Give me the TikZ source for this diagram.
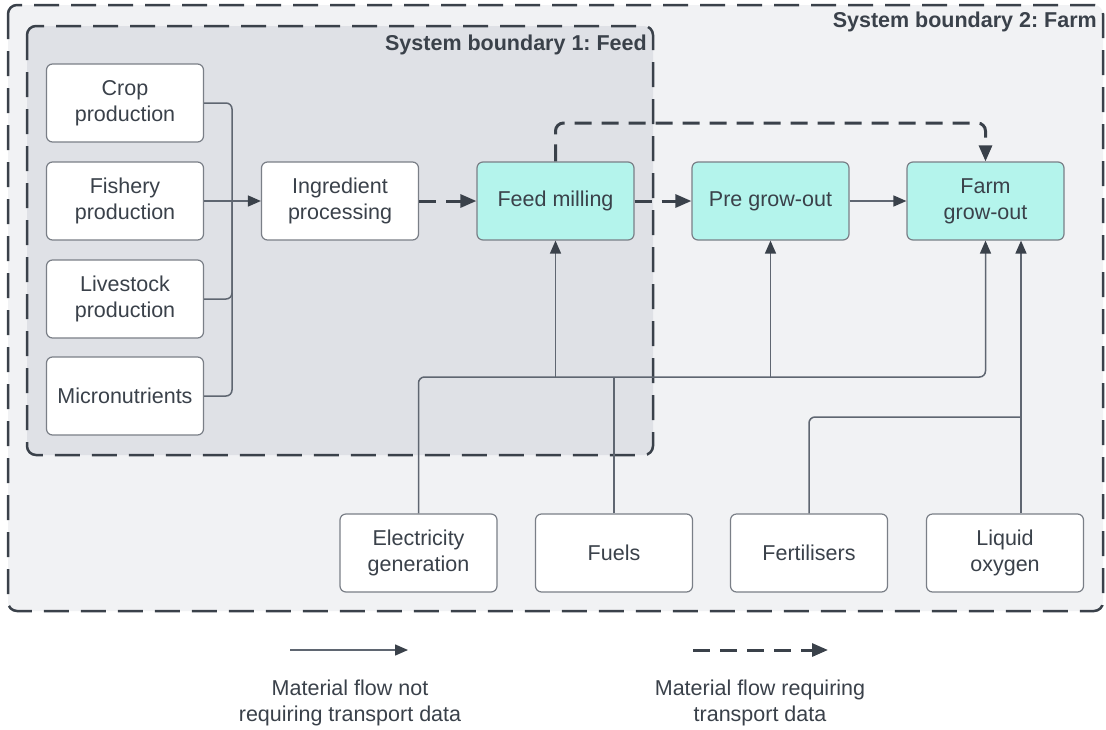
\documentclass[tikz,border=0pt]{standalone}
\usepackage{fontspec}
\setmainfont{Liberation Sans}
\usetikzlibrary{arrows.meta,calc}
\definecolor{txt}{HTML}{3A414A}
\definecolor{outerfill}{HTML}{F1F2F4}
\definecolor{innerfill}{HTML}{DFE1E6}
\definecolor{boxline}{HTML}{7A7F87}
\definecolor{thinline}{HTML}{5F6671}
\definecolor{teal}{HTML}{B4F4EC}
\frenchspacing
\begin{document}
\begin{tikzpicture}[x=1pt,y=-1pt,
  txtfont/.style={font=\fontsize{21.5}{26}\selectfont, text=txt},
  boxst/.style={draw=boxline, line width=1.2pt, rounded corners=6pt, fill=white,
    minimum width=157pt, minimum height=78pt, align=center, inner sep=0pt, txtfont},
  tealbox/.style={boxst, fill=teal},
  boundary/.style={draw=txt, line width=2.5pt, dash pattern=on 25pt off 12pt, rounded corners=9pt},
  blabel/.style={font=\fontsize{21.5}{26}\selectfont\bfseries, text=txt, inner sep=0pt},
  thinflow/.style={draw=thinline, line width=1.5pt, rounded corners=6pt},
  thinarrow/.style={thinflow, -{Triangle[length=13pt,width=11pt,color=txt]}},
  transport/.style={draw=txt, line width=3pt, dash pattern=on 17pt off 10pt, rounded corners=8pt,
    -{Triangle[length=16pt,width=13pt]}}
]
\fill[white] (0,0) rectangle (1106,729);
\useasboundingbox (0,0) rectangle (1106,729);

% boundaries
\path[boundary, fill=outerfill] (8,5) rectangle (1103,611);
\path[boundary, fill=innerfill] (27,26) rectangle (653,455);
\node[blabel, anchor=east] (b2) at (1097,22) {System boundary 2: Farm};
\node[blabel, anchor=east] (b1) at (647,45) {System boundary 1: Feed};

% boxes
\node[boxst] (crop) at (125,103) {Crop\\production};
\node[boxst] (fish) at (125,201) {Fishery\\production};
\node[boxst] (live) at (125,299) {Livestock\\production};
\node[boxst] (micro) at (125,396) {Micronutrients};
\node[boxst] (ing) at (340,201) {Ingredient\\processing};
\node[tealbox] (feed) at (555.5,201) {Feed milling};
\node[tealbox] (pre) at (770.5,201) {Pre grow-out};
\node[tealbox] (farm) at (985.5,201) {Farm\\grow-out};
\node[boxst] (elec) at (418.5,553) {Electricity\\generation};
\node[boxst] (fuel) at (614,553) {Fuels};
\node[boxst] (fert) at (809,553) {Fertilisers};
\node[boxst] (lox) at (1005,553) {Liquid\\oxygen};

% helper coordinates
\coordinate (j) at (232,201);
\coordinate (bus) at (0,377);
\coordinate (ox) at (1021,0);
\coordinate (fy) at (0,417);
\coordinate (topy) at (0,123);

% raw materials to ingredient processing
\draw[thinflow] (crop.east) -| (j);
\draw[thinflow] (live.east) -| (j);
\draw[thinflow] (micro.east) -| (j);
\draw[thinarrow] (fish.east) -- (ing.west);

% main chain
\draw[transport] (ing.east) -- (feed.west);
\draw[transport] (feed.east) -- (pre.west);
\draw[thinarrow] (pre.east) -- (farm.west);
\draw[transport] (feed.north) -- (feed.north |- topy) -- (farm.north |- topy) -- (farm.north);

% utilities
\draw[thinarrow] (elec.north) -- (elec.north |- bus) -- (farm.south |- bus) -- (farm.south);
\draw[thinarrow] (feed.south |- bus) -- (feed.south);
\draw[thinarrow] (pre.south |- bus) -- (pre.south);
\draw[thinflow] (fuel.north) -- (fuel.north |- bus);
\draw[thinarrow] (lox.north -| ox) -- (farm.south -| ox);
\draw[thinflow] (fert.north) -- (fert.north |- fy) -- (ox |- fy);

% legend
\coordinate (l1a) at (290,650);
\coordinate (l1b) at (408,650);
\coordinate (l2a) at (693,650);
\coordinate (l2b) at (828,650);
\draw[thinarrow] (l1a) -- (l1b);
\draw[transport] (l2a) -- (l2b);
\node[txtfont, align=center] (leg1) at (350,703) {Material flow not\\requiring transport data};
\node[txtfont, align=center] (leg2) at (760,703) {Material flow requiring\\transport data};
\end{tikzpicture}
\end{document}
